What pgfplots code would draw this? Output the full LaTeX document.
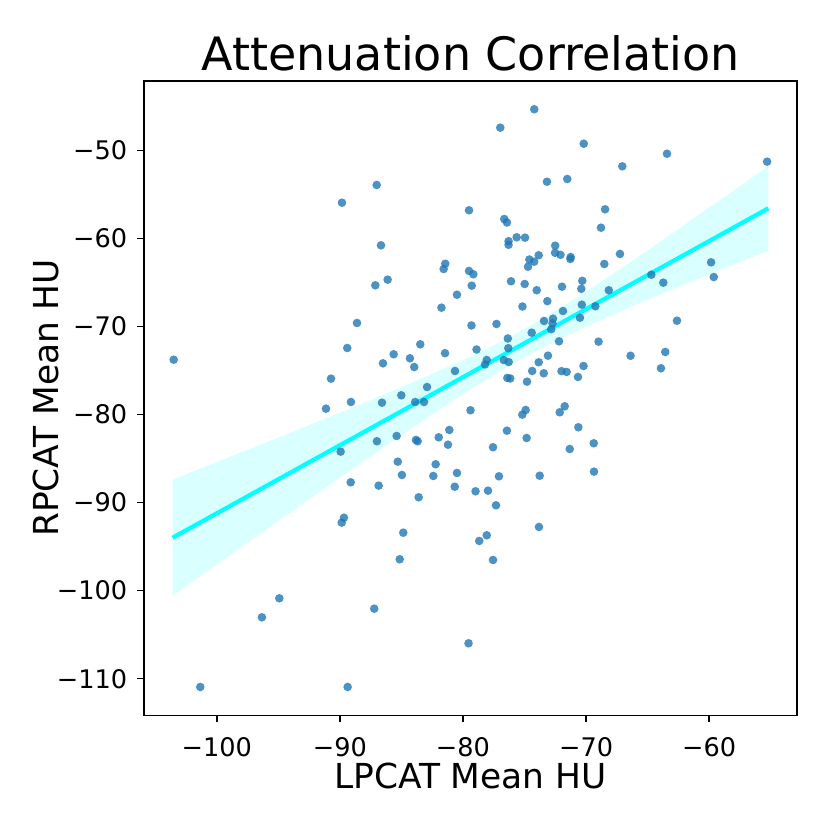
\documentclass[border=0pt]{standalone}
\usepackage{pgfplots}
\pgfplotsset{compat=1.18}
\usepackage{fontspec}
\setmainfont{DejaVu Sans}
\definecolor{mplblue}{HTML}{1F77B4}
\definecolor{aqua}{RGB}{0,255,255}
\begin{document}
\begin{tikzpicture}[x=1pt,y=1pt]
\useasboundingbox (0,0) rectangle (415,415);
\begin{axis}[
  at={(72pt,57.25pt)}, anchor=south west,
  scale only axis, width=326.5pt, height=317.25pt,
  xmin=-105.91, xmax=-52.87, ymin=-114.18, ymax=-42.13,
  axis line style={line width=0.77pt},
  every tick/.style={black, line width=0.77pt},
  tick align=outside, major tick length=3.36pt,
  xtick pos=left, ytick pos=left,
  xtick={-100,-90,-80,-70,-60},
  xticklabels={−100,−90,−80,−70,−60},
  ytick={-110,-100,-90,-80,-70,-60,-50},
  yticklabels={−110,−100,−90,−80,−70,−60,−50},
  ticklabel style={font=\fontsize{12.8}{12.8}\selectfont},
  xticklabel style={anchor=base, inner sep=0pt, yshift=-16.9pt},
  yticklabel style={anchor=east, inner sep=0pt, xshift=-4.85pt},
  every axis title shift=0pt,
  title={Attenuation Correlation},
  title style={font=\fontsize{23}{23}\selectfont, at={(axis description cs:0.5,1.0173)}, anchor=base, inner sep=0pt},
  xlabel={LPCAT Mean HU},
  xlabel style={font=\fontsize{17.2}{17.2}\selectfont, at={(axis description cs:0.5,-0.1158)}, anchor=base, inner sep=0pt},
  ylabel={RPCAT Mean HU},
  ylabel style={font=\fontsize{17.2}{17.2}\selectfont, at={(axis description cs:-0.1305,0.5)}, anchor=base, inner sep=0pt},
]
% scatter points
\addplot[only marks, mark=*, mark size=2.15pt, color=mplblue, mark options={fill=mplblue, draw opacity=0, fill opacity=0.8}] table {
x y
-87.01 -53.94
-89.83 -55.95
-79.51 -56.81
-86.66 -60.79
-81.44 -62.88
-81.57 -63.48
-79.51 -63.70
-79.16 -64.08
-86.12 -64.69
-87.12 -65.33
-79.29 -65.37
-80.49 -66.40
-81.75 -67.87
-88.61 -69.61
-79.31 -69.89
-89.40 -72.45
-83.47 -72.03
-85.63 -73.16
-84.31 -73.62
-81.46 -73.04
-86.50 -74.19
-83.96 -74.61
-103.50 -73.78
-78.90 -72.62
-90.72 -75.93
-80.65 -75.06
-82.92 -76.88
-85.01 -77.82
-74.21 -45.34
-76.97 -47.43
-70.19 -49.25
-63.43 -50.39
-55.30 -51.29
-67.06 -51.82
-73.18 -53.57
-71.53 -53.26
-68.46 -56.70
-76.65 -57.80
-76.43 -58.20
-68.79 -58.79
-75.64 -59.88
-74.96 -59.92
-76.30 -60.32
-76.30 -60.73
-72.51 -60.83
-72.52 -61.64
-72.08 -61.87
-73.85 -61.92
-71.25 -62.12
-71.28 -62.34
-67.25 -61.77
-74.61 -62.40
-74.22 -62.65
-74.72 -63.22
-68.52 -62.91
-59.85 -62.72
-64.70 -64.13
-59.63 -64.39
-76.10 -64.87
-74.99 -65.18
-70.31 -64.82
-63.73 -65.03
-71.96 -65.49
-74.01 -65.89
-70.39 -65.73
-68.16 -65.89
-73.15 -67.13
-75.17 -67.74
-70.35 -67.53
-69.25 -67.71
-71.88 -68.25
-62.62 -69.35
-77.28 -69.72
-72.69 -69.12
-72.73 -69.66
-73.42 -69.38
-70.50 -69.01
-72.83 -70.32
-74.42 -70.71
-76.36 -71.37
-72.20 -71.69
-68.99 -71.73
-76.32 -72.47
-78.07 -73.81
-78.21 -74.32
-76.69 -73.81
-76.29 -74.04
-73.10 -73.32
-66.39 -73.33
-63.57 -72.90
-73.85 -74.07
-70.21 -74.49
-63.92 -74.75
-74.38 -75.06
-73.44 -75.32
-72.00 -75.08
-71.58 -75.17
-70.66 -75.74
-76.40 -75.85
-76.16 -75.91
-74.80 -76.27
-91.13 -79.34
-89.10 -78.58
-86.58 -78.66
-83.88 -78.58
-83.17 -78.58
-79.39 -79.52
-86.99 -83.04
-85.39 -82.44
-83.82 -82.89
-83.68 -83.04
-81.97 -82.59
-81.11 -81.76
-81.22 -83.43
-89.94 -84.22
-85.30 -85.36
-82.22 -85.65
-84.96 -86.87
-82.41 -86.98
-80.49 -86.64
-80.67 -88.20
-78.98 -88.72
-89.12 -87.70
-86.85 -88.08
-83.60 -89.40
-89.67 -91.72
-89.85 -92.28
-84.85 -93.42
-85.14 -96.44
-94.92 -100.87
-96.33 -103.03
-87.21 -102.05
-79.55 -105.98
-101.34 -110.94
-89.37 -110.94
-74.91 -79.49
-75.18 -80.02
-71.74 -79.07
-72.14 -79.75
-76.43 -81.84
-70.63 -81.45
-74.83 -82.67
-77.56 -83.72
-71.33 -83.92
-69.38 -83.27
-69.36 -86.49
-77.08 -87.02
-73.77 -86.95
-77.97 -88.65
-77.32 -90.31
-73.83 -92.77
-78.07 -93.72
-78.68 -94.36
-77.56 -96.52
};
% confidence band
\addplot[draw=none, fill=aqua, fill opacity=0.15] coordinates {
(-103.58,-87.39) (-102,-86.52) (-100,-85.40) (-97.5,-84.01) (-95,-82.62)
(-92.5,-81.21) (-90,-79.79) (-87.5,-78.36) (-85,-76.90) (-82.5,-75.40)
(-80,-73.83) (-77.5,-72.15) (-75,-70.29) (-72.5,-68.24) (-70,-66.04)
(-67.5,-63.73) (-65,-61.35) (-62.5,-58.94) (-60,-56.50) (-57.5,-54.06)
(-55.2,-51.79)
(-55.2,-61.39) (-57.5,-62.68) (-60,-64.10) (-62.5,-65.52) (-65,-66.97)
(-67.5,-68.47) (-70,-70.02) (-72.5,-71.68) (-75,-73.49) (-77.5,-75.51)
(-80,-77.69) (-82.5,-79.98) (-85,-82.36) (-87.5,-84.76) (-90,-87.19)
(-92.5,-89.63) (-95,-92.10) (-97.5,-94.57) (-100,-97.04) (-102,-99.02)
(-103.58,-100.59)
};
% regression line
\addplot[aqua, line width=2.1pt] coordinates {(-103.58,-93.99) (-55.2,-56.59)};
\end{axis}
\end{tikzpicture}
\end{document}
